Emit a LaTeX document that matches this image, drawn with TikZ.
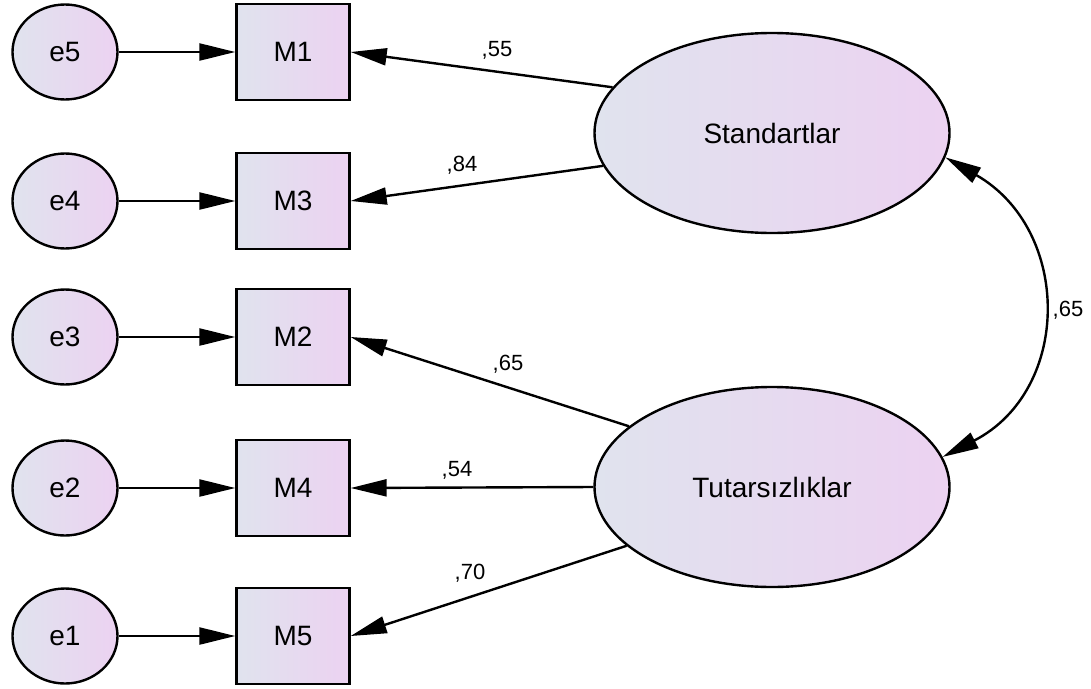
\documentclass[tikz,border=0pt]{standalone}
\usepackage{fontspec}
\setmainfont{Liberation Sans}
\usetikzlibrary{shapes.geometric,arrows.meta}

\definecolor{fillleft}{HTML}{E0E3EE}
\definecolor{fillright}{HTML}{ECD2F1}

\begin{document}
\begin{tikzpicture}[x=1pt, y=-1pt,
    latent/.style={draw, ellipse, line width=2.4pt, left color=fillleft, right color=fillright,
        minimum width=355pt, minimum height=200pt, font=\fontsize{28}{30}\selectfont},
    errvar/.style={draw, ellipse, line width=2.4pt, left color=fillleft, right color=fillright,
        minimum width=105pt, minimum height=95pt, font=\fontsize{28}{30}\selectfont},
    observed/.style={draw, rectangle, line width=2.4pt, left color=fillleft, right color=fillright,
        minimum width=113pt, minimum height=96pt, font=\fontsize{28}{30}\selectfont},
    path/.style={line width=2.4pt, -{Triangle[length=36pt, width=17pt]}},
    weight/.style={font=\fontsize{22}{24}\selectfont}]
    \useasboundingbox (0,0) rectangle (1091,688);

    % latent variables
    \node[latent] (std) at (772,133) {Standartlar};
    \node[latent] (tut) at (772,487) {Tutarsızlıklar};

    % observed variables
    \node[observed] (m1) at (293,52) {M1};
    \node[observed] (m3) at (293,201) {M3};
    \node[observed] (m2) at (293,337) {M2};
    \node[observed] (m4) at (293,488) {M4};
    \node[observed] (m5) at (293,636) {M5};

    % error terms
    \node[errvar] (e5) at (65,52) {e5};
    \node[errvar] (e4) at (65,201) {e4};
    \node[errvar] (e3) at (65,337) {e3};
    \node[errvar] (e2) at (65,488) {e2};
    \node[errvar] (e1) at (65,636) {e1};

    \draw[path] (e5) -- (m1);
    \draw[path] (e4) -- (m3);
    \draw[path] (e3) -- (m2);
    \draw[path] (e2) -- (m4);
    \draw[path] (e1) -- (m5);

    % loadings
    \draw[path] (std.164.6) -- (m1.east);
    \draw[path] (std.191.4) -- (m3.east);
    \draw[path] (tut.157.5) -- (m2.east);
    \draw[path] (tut.west) -- (m4.east);
    \draw[path] (tut.202.5) -- (m5.east);

    \node[weight] (w1) at (497,50) {,55};
    \node[weight] (w3) at (462,165) {,84};
    \node[weight] (w2) at (508,364) {,65};
    \node[weight] (w4) at (457,470) {,54};
    \node[weight] (w5) at (470,573) {,70};

    % covariance
    \draw[path, {Triangle[length=36pt, width=17pt]}-{Triangle[length=36pt, width=17pt]}]
        (std.-8) .. controls (1072,230) and (1072,390) .. (tut.10);
    \node[weight] (cov) at (1068,310) {,65};
\end{tikzpicture}
\end{document}
